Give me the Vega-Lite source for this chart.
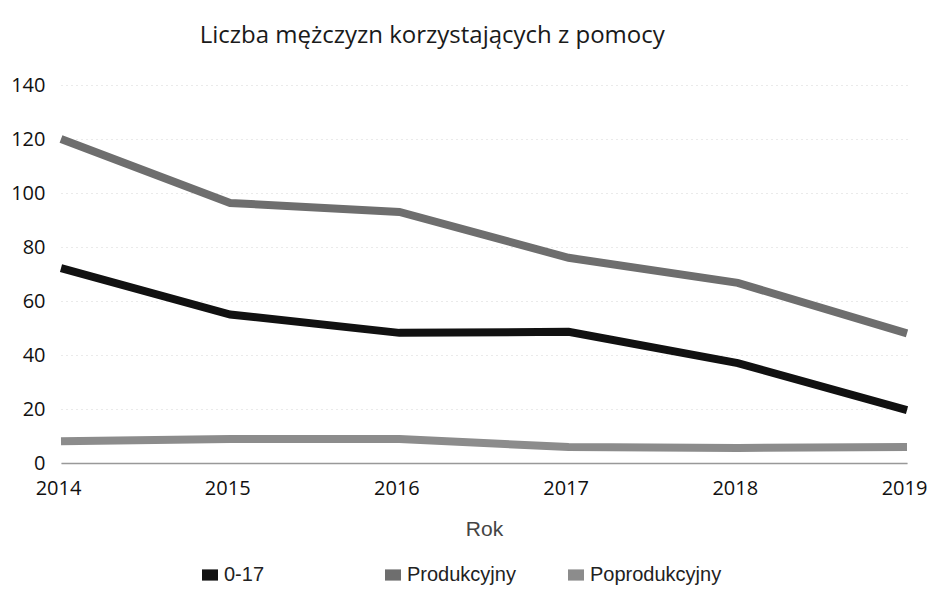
{
  "$schema": "https://vega.github.io/schema/vega-lite/v6.json",
  "width": 846,
  "height": 378,
  "autosize": "none",
  "padding": {"left": 61, "top": 85, "right": 25, "bottom": 127},
  "background": "white",
  "title": {
    "text": "Liczba mężczyzn korzystających z pomocy",
    "anchor": "start",
    "dx": 189,
    "offset": 27,
    "fontSize": 24,
    "font": "Open Sans",
    "fontWeight": "normal",
    "color": "#1a1a1a"
  },
  "config": {
    "view": {"stroke": null},
    "font": "Open Sans"
  },
  "data": {
    "values": [
      {"Rok": "2014", "Grupa": "0-17", "Liczba": 72.2},
      {"Rok": "2015", "Grupa": "0-17", "Liczba": 55},
      {"Rok": "2016", "Grupa": "0-17", "Liczba": 48.2},
      {"Rok": "2017", "Grupa": "0-17", "Liczba": 48.6},
      {"Rok": "2018", "Grupa": "0-17", "Liczba": 37},
      {"Rok": "2019", "Grupa": "0-17", "Liczba": 19.6},
      {"Rok": "2014", "Grupa": "Produkcyjny", "Liczba": 120},
      {"Rok": "2015", "Grupa": "Produkcyjny", "Liczba": 96.3},
      {"Rok": "2016", "Grupa": "Produkcyjny", "Liczba": 93},
      {"Rok": "2017", "Grupa": "Produkcyjny", "Liczba": 76},
      {"Rok": "2018", "Grupa": "Produkcyjny", "Liczba": 66.7},
      {"Rok": "2019", "Grupa": "Produkcyjny", "Liczba": 48},
      {"Rok": "2014", "Grupa": "Poprodukcyjny", "Liczba": 8.1},
      {"Rok": "2015", "Grupa": "Poprodukcyjny", "Liczba": 8.9},
      {"Rok": "2016", "Grupa": "Poprodukcyjny", "Liczba": 8.9},
      {"Rok": "2017", "Grupa": "Poprodukcyjny", "Liczba": 5.9},
      {"Rok": "2018", "Grupa": "Poprodukcyjny", "Liczba": 5.6},
      {"Rok": "2019", "Grupa": "Poprodukcyjny", "Liczba": 5.9}
    ]
  },
  "mark": {"type": "line", "strokeWidth": 8, "strokeCap": "butt", "strokeJoin": "miter"},
  "encoding": {
    "x": {
      "field": "Rok",
      "type": "ordinal",
      "scale": {"type": "point", "padding": 0},
      "axis": {
        "title": "Rok",
        "titleFont": "Liberation Sans",
        "titleFontSize": 21,
        "titleFontWeight": "normal",
        "titleColor": "#444",
        "titlePadding": 20,
        "labelAngle": 0,
        "labelFontSize": 20,
        "labelColor": "#111",
        "labelPadding": 15,
        "labelOffset": -3,
        "ticks": false,
        "domainColor": "#999",
        "domainWidth": 1.5,
        "grid": false
      }
    },
    "y": {
      "field": "Liczba",
      "type": "quantitative",
      "scale": {"domain": [0, 140]},
      "axis": {
        "title": null,
        "values": [0, 20, 40, 60, 80, 100, 120, 140],
        "labelFontSize": 20,
        "labelColor": "#111",
        "labelPadding": 16,
        "ticks": false,
        "domain": false,
        "grid": true,
        "gridColor": "#d4d4d4",
        "gridDash": [1, 4],
        "gridWidth": 1
      }
    },
    "color": {
      "field": "Grupa",
      "type": "nominal",
      "scale": {
        "domain": ["0-17", "Produkcyjny", "Poprodukcyjny"],
        "range": ["#111111", "#6e6e6e", "#8c8c8c"]
      },
      "legend": {
        "title": null,
        "orient": "none",
        "direction": "horizontal",
        "legendX": 139,
        "legendY": 480,
        "symbolType": "M-1,-0.7H1V0.7H-1Z",
        "symbolSize": 256,
        "symbolStrokeWidth": 0,
        "symbolOpacity": 1,
        "labelFont": "Liberation Sans",
        "labelFontSize": 20,
        "labelColor": "#222",
        "gridAlign": "all",
        "columnPadding": 27,
        "labelOffset": 4,
        "encode": {
          "symbols": {
            "update": {
              "fill": {"scale": "color", "field": "value"},
              "fillOpacity": {"value": 1},
              "strokeWidth": {"value": 0}
            }
          }
        }
      }
    }
  }
}
